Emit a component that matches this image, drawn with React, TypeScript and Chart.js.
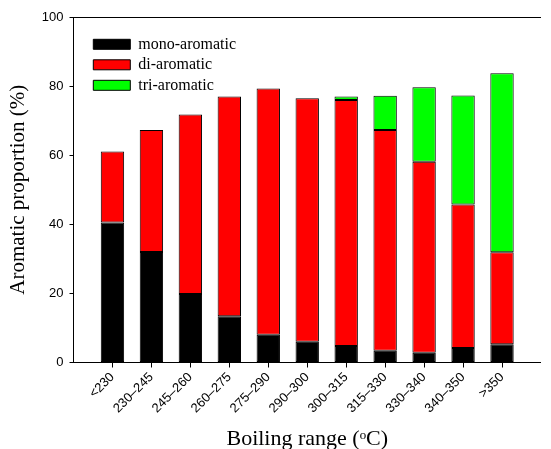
import React, { useEffect, useRef } from "react";
import { Chart, registerables } from "chart.js";

Chart.register(...registerables);

const categories = ["<230", "230–245", "245–260", "260–275", "275–290", "290–300", "300–315", "315–330", "330–340", "340–350", ">350"];
const mono = [40.5, 32.0, 19.8, 13.4, 8.0, 6.0, 4.8, 3.4, 2.8, 4.2, 5.3];
const di = [20.6, 35.3, 52.0, 63.6, 71.3, 70.5, 71.2, 63.9, 55.3, 41.5, 26.6];
const tri = [0, 0, 0, 0, 0, 0, 1.0, 9.9, 21.6, 31.6, 51.8];
const yTicks = [0, 20, 40, 60, 80, 100];

const SERIF = "'Liberation Serif', 'Times New Roman', serif";
const SANS = "'Liberation Sans', Arial, sans-serif";

const pad = (arr: any[]) => [null, ...arr, null];

const legendPlace = {
  id: "legendPlace",
  afterLayout(chart: any) {
    const lg = chart.legend;
    if (lg) {
      lg.left = chart.chartArea.left + 15.3;
      lg.top = chart.chartArea.top + 14.8;
    }
  },
};

export default function App() {
  const ref = useRef<HTMLCanvasElement | null>(null);

  useEffect(() => {
    if (!ref.current) return;
    const labels = ["", ...categories, ""];
    const last = labels.length - 1;
    const chart = new Chart(ref.current, {
      type: "bar",
      data: {
        labels,
        datasets: [
          { label: "mono-aromatic", data: pad(mono), backgroundColor: "#000000", borderColor: "#000000", borderWidth: 1, borderSkipped: false },
          { label: "di-aromatic", data: pad(di), backgroundColor: "#ff0000", borderColor: "#000000", borderWidth: 1, borderSkipped: false },
          { label: "tri-aromatic", data: pad(tri), backgroundColor: "#00ff00", borderColor: "#000000", borderWidth: 1, borderSkipped: false },
        ],
      },
      options: {
        animation: false,
        responsive: true,
        maintainAspectRatio: false,
        layout: { padding: { left: 0, right: 0.5, top: 17, bottom: 0 } },
        datasets: { bar: { categoryPercentage: 1, barPercentage: 0.6 } },
        plugins: {
          tooltip: { enabled: false },
          legend: {
            position: "chartArea",
            align: "start",
            labels: {
              boxWidth: 37,
              boxHeight: 10,
              padding: 4.5,
              color: "#000",
              font: { family: SERIF, size: 16 },
            },
          },
        },
        scales: {
          x: {
            type: "category",
            stacked: true,
            offset: false,
            grid: {
              offset: false,
              drawOnChartArea: false,
              drawTicks: true,
              tickLength: 5,
              tickColor: (c: any) => (c.index === 0 || c.index === last ? "rgba(0,0,0,0)" : "#000"),
            },
            border: { display: true, color: "#000", width: 1 },
            ticks: {
              autoSkip: false,
              minRotation: 45,
              maxRotation: 45,
              padding: 2,
              color: "#000",
              font: { family: SANS, size: 13 },
            },
            title: {
              display: true,
              text: "Boiling range (ᵒC)",
              color: "#000",
              font: { family: SERIF, size: 22 },
              padding: { top: 0, bottom: -3 },
            },
            afterFit: (s: any) => {
              s.height = 86.5;
            },
          },
          x2: {
            type: "category",
            position: "top",
            labels,
            grid: { display: false },
            ticks: { display: false },
            border: { display: true, color: "#000", width: 1 },
            afterFit: (s: any) => {
              s.height = 0;
            },
          },
          y: {
            stacked: true,
            min: 0,
            max: 100,
            afterBuildTicks: (s: any) => {
              s.ticks = yTicks.map((v) => ({ value: v }));
            },
            grid: { drawOnChartArea: false, drawTicks: true, tickLength: 4, color: "#000" },
            border: { display: true, color: "#000", width: 1 },
            ticks: { padding: 6, color: "#000", font: { family: SANS, size: 13 } },
            title: {
              display: true,
              text: "Aromatic proportion (%)",
              color: "#000",
              font: { family: SERIF, size: 21 },
              padding: { top: 6, bottom: 0 },
            },
            afterFit: (s: any) => {
              s.width = 73.5;
            },
          },
        },
      },
      plugins: [legendPlace],
    } as any);
    return () => chart.destroy();
  }, []);

  return (
    <div style={{ position: "absolute", left: 0, top: 0, width: 551, height: 449, overflow: "hidden", background: "#fff" }}>
      <div style={{ position: "relative", width: 554, height: 449 }}>
        <canvas ref={ref} />
      </div>
    </div>
  );
}
